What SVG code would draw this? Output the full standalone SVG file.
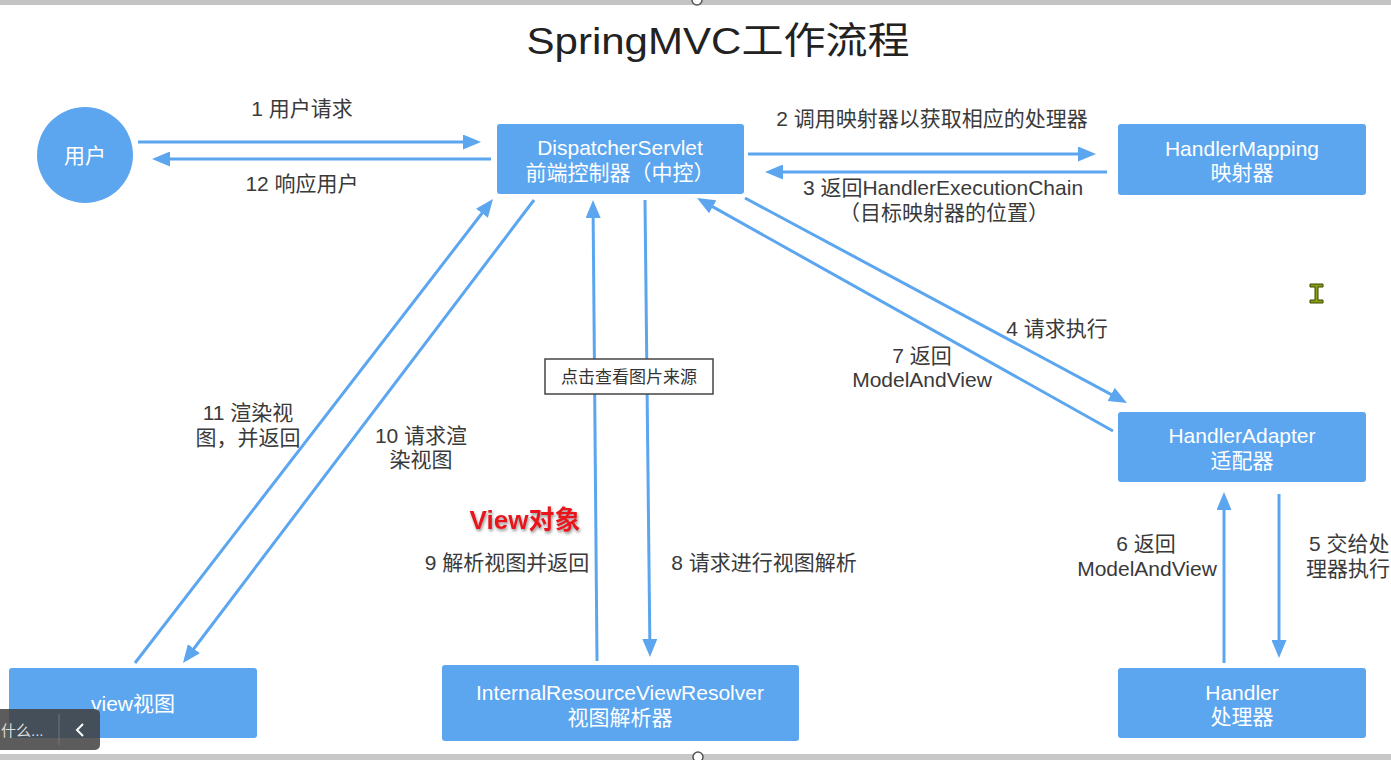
<svg xmlns="http://www.w3.org/2000/svg" width="1391" height="760" viewBox="0 0 1391 760">
<defs>
<style>
.node{fill:#5ca6f0}
.nt{font-family:"Liberation Sans","Noto Sans CJK SC",sans-serif;font-size:21px;fill:#ffffff;text-anchor:middle;dominant-baseline:central}
.lb{font-family:"Liberation Sans","Noto Sans CJK SC",sans-serif;font-size:21px;fill:#3a3a3a;text-anchor:middle;dominant-baseline:central}
.ls{font-family:"Liberation Sans","Noto Sans CJK SC",sans-serif;font-size:21px;fill:#3a3a3a;dominant-baseline:central}
.ar{stroke:#5ca6f0;stroke-width:3;fill:none;marker-end:url(#ah)}
</style>
<marker id="ah" markerUnits="userSpaceOnUse" markerWidth="19" markerHeight="15" refX="13" refY="7.5" orient="auto">
<path d="M0,0 L18,7.5 L0,15 z" fill="#5ca6f0"/>
</marker>
<filter id="sh" x="-20%" y="-40%" width="140%" height="180%">
<feDropShadow dx="1" dy="2" stdDeviation="1.6" flood-color="#777" flood-opacity="0.8"/>
</filter>
</defs>
<rect x="0" y="0" width="1391" height="760" fill="#ffffff"/>
<rect x="0" y="0" width="1391" height="5" fill="#c4c4c4"/>
<rect x="0" y="754" width="1391" height="6" fill="#c8c8c8"/>
<circle cx="697" cy="0" r="5" fill="#fff" stroke="#555" stroke-width="1.5"/>
<circle cx="698" cy="757" r="5" fill="#fff" stroke="#555" stroke-width="1.5"/>

<text x="718" y="54" font-family="'Liberation Sans','Noto Sans CJK SC',sans-serif" font-size="37" fill="#222" text-anchor="middle" textLength="383" lengthAdjust="spacingAndGlyphs">SpringMVC工作流程</text>

<g id="connectors">
<line class="ar" x1="138" y1="142" x2="476" y2="142"/>
<line class="ar" x1="491" y1="159" x2="157" y2="159"/>
<line class="ar" x1="748" y1="154" x2="1091" y2="154"/>
<line class="ar" x1="1107" y1="172" x2="770" y2="172"/>
<line class="ar" x1="135" y1="663" x2="489.9" y2="203"/>
<line class="ar" x1="534" y1="200" x2="186" y2="659"/>
<line class="ar" x1="597" y1="661" x2="593.05" y2="205"/>
<line class="ar" x1="645" y1="200" x2="649.95" y2="652"/>
<line class="ar" x1="745" y1="198" x2="1122.6" y2="400.6"/>
<line class="ar" x1="1113" y1="431" x2="701.4" y2="200.4"/>
<line class="ar" x1="1224" y1="663" x2="1224" y2="497"/>
<line class="ar" x1="1279" y1="494" x2="1279" y2="653"/>
<text class="lb" x="302" y="108">1 用户请求</text>
<text class="lb" x="302" y="183">12 响应用户</text>
<text class="lb" x="932" y="118">2 调用映射器以获取相应的处理器</text>
<text class="lb" x="943" y="187">3 返回HandlerExecutionChain</text>
<text class="lb" x="944" y="212">（目标映射器的位置）</text>
<text class="lb" x="1057" y="328">4 请求执行</text>
<text class="lb" x="922" y="355">7 返回</text>
<text class="lb" x="922" y="379">ModelAndView</text>
<text class="lb" x="248" y="412">11 渲染视</text>
<text class="lb" x="248" y="437">图，并返回</text>
<text class="lb" x="421" y="435">10 请求渲</text>
<text class="lb" x="421" y="459">染视图</text>
<text class="lb" x="507" y="562">9 解析视图并返回</text>
<text class="lb" x="764" y="562">8 请求进行视图解析</text>
<text class="lb" x="1146" y="543">6 返回</text>
<text class="lb" x="1147" y="568">ModelAndView</text>
<text class="ls" x="1309" y="543">5 交给处</text>
<text class="ls" x="1306" y="568">理器执行</text>
<text x="525" y="520" font-family="'Liberation Sans','Noto Sans CJK SC',sans-serif" font-size="26" font-weight="bold" fill="#e8141b" text-anchor="middle" dominant-baseline="central" filter="url(#sh)">View对象</text>
</g>

<g id="user">
<circle class="node" cx="85" cy="155" r="48"/>
<text class="nt" x="85" y="155">用户</text>
</g>
<g id="dispatcher">
<rect class="node" x="497" y="124" width="247" height="70" rx="3"/>
<text class="nt" x="620" y="147">DispatcherServlet</text>
<text class="nt" x="620" y="172">前端控制器（中控）</text>
</g>
<g id="handlerMapping">
<rect class="node" x="1118" y="124" width="248" height="71" rx="3"/>
<text class="nt" x="1242" y="148">HandlerMapping</text>
<text class="nt" x="1242" y="172">映射器</text>
</g>
<g id="handlerAdapter">
<rect class="node" x="1118" y="412" width="248" height="70" rx="3"/>
<text class="nt" x="1242" y="435">HandlerAdapter</text>
<text class="nt" x="1242" y="460">适配器</text>
</g>
<g id="handler">
<rect class="node" x="1118" y="668" width="248" height="70" rx="3"/>
<text class="nt" x="1242" y="692">Handler</text>
<text class="nt" x="1242" y="716">处理器</text>
</g>
<g id="view">
<rect class="node" x="9" y="668" width="248" height="70" rx="3"/>
<text class="nt" x="133" y="703">view视图</text>
</g>
<g id="viewResolver">
<rect class="node" x="442" y="665" width="357" height="76" rx="3"/>
<text class="nt" x="620" y="692">InternalResourceViewResolver</text>
<text class="nt" x="620" y="717">视图解析器</text>
</g>
<g id="sourceBox">
<rect x="545" y="359" width="168" height="35" fill="#ffffff" stroke="#444" stroke-width="1.5"/>
<text x="629" y="377" font-family="'Liberation Sans','Noto Sans CJK SC',sans-serif" font-size="17" fill="#333" text-anchor="middle" dominant-baseline="central">点击查看图片来源</text>
</g>

<g id="cursor">
<path d="M1310,284 h13 v3 h-5 v13 h5 v3 h-13 v-3 h5 v-13 h-5 z" fill="#8c9c12" stroke="#3a4a00" stroke-width="1"/>
</g>
<g id="toolbar">
<rect x="-6" y="709" width="106" height="41" rx="5" fill="#3f3f3f" fill-opacity="0.85"/>
<text x="1" y="730" font-family="'Liberation Sans','Noto Sans CJK SC',sans-serif" font-size="15" fill="#dddddd" dominant-baseline="central">什么...</text>
<line x1="59" y1="714" x2="59" y2="745" stroke="#777" stroke-width="1"/>
<polyline points="83,724 77,730 83,736" fill="none" stroke="#ffffff" stroke-width="2"/>
</g>
</svg>
